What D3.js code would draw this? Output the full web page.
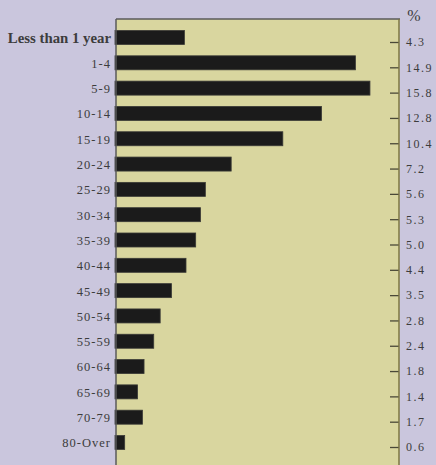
<!DOCTYPE html>
<html>
<head>
<meta charset="utf-8">
<script src="https://cdn.jsdelivr.net/npm/d3@7"></script>
<style>
  html, body { margin: 0; padding: 0; background: #cac6dd; }
  svg { display: block; }
</style>
</head>
<body>
<svg id="chart" width="436" height="465"></svg>
<script>
const categories = ["Less than 1 year", "1-4", "5-9", "10-14", "15-19", "20-24", "25-29", "30-34",
  "35-39", "40-44", "45-49", "50-54", "55-59", "60-64", "65-69", "70-79", "80-Over"];
const percentValues = [4.3, 14.9, 15.8, 12.8, 10.4, 7.2, 5.6, 5.3, 5.0, 4.4, 3.5, 2.8, 2.4, 1.8, 1.4, 1.7, 0.6];
const percentLabels = ["4.3", "14.9", "15.8", "12.8", "10.4", "7.2", "5.6", "5.3", "5.0", "4.4", "3.5", "2.8", "2.4", "1.8", "1.4", "1.7", "0.6"];
const unitLabel = "%";

const W = 436, H = 465;
const plot = { left: 116, right: 399, top: 19, bottom: 465 };

const svg = d3.select("#chart");

// plot background
svg.append("rect")
  .attr("x", plot.left).attr("y", plot.top)
  .attr("width", plot.right - plot.left).attr("height", plot.bottom - plot.top)
  .attr("fill", "#d9d69f");

const x = d3.scaleLinear().domain([0, 17.6]).range([plot.left - 1, plot.right]);
const y = d3.scalePoint().domain(categories).range([37.5, 442.5]);
const barH = 14;

// bars
svg.append("g").selectAll("rect")
  .data(categories)
  .join("rect")
  .attr("x", x(0))
  .attr("y", d => y(d) - barH / 2)
  .attr("width", (d, i) => x(percentValues[i]) - x(0))
  .attr("height", barH)
  .attr("fill", "#1b1b1b")
  .attr("stroke", "#3a3a36")
  .attr("stroke-width", 0.8);

// borders
svg.append("line").attr("x1", plot.left).attr("x2", plot.right + 1)
  .attr("y1", plot.top).attr("y2", plot.top)
  .attr("stroke", "#5a5a5a").attr("stroke-width", 1.5);
svg.append("line").attr("x1", plot.left).attr("x2", plot.left)
  .attr("y1", plot.top).attr("y2", plot.bottom)
  .attr("stroke", "#5a5a5a").attr("stroke-width", 1.5);

// left category axis
const leftAxis = svg.append("g")
  .attr("transform", `translate(${plot.left - 1},0)`)
  .call(d3.axisLeft(y).tickSize(0).tickPadding(4));
leftAxis.select(".domain").remove();
leftAxis.selectAll("text")
  .attr("fill", "#3c3c3c")
  .style("font-family", "'Liberation Serif', 'DejaVu Serif', serif")
  .style("font-size", "12.5px")
  .style("letter-spacing", "1px")
  .attr("dy", "0.35em");
leftAxis.selectAll("text")
  .filter(d => d === categories[0])
  .style("font-size", "14.8px")
  .style("font-weight", "bold")
  .style("letter-spacing", "0px");

// right value axis (ticks pointing inward)
const rightAxis = svg.append("g")
  .attr("transform", `translate(${plot.right},4.5)`)
  .call(d3.axisRight(y)
    .tickSizeInner(-9).tickSizeOuter(0).tickPadding(7)
    .tickFormat((d, i) => percentLabels[i]));
rightAxis.select(".domain").remove();
rightAxis.selectAll(".tick line").attr("stroke", "#4a4838").attr("stroke-width", 1.3);
rightAxis.selectAll("text")
  .attr("fill", "#3c3c3c")
  .style("font-family", "'Liberation Serif', 'DejaVu Serif', serif")
  .style("font-size", "12px")
  .style("letter-spacing", "1.5px");

svg.append("line").attr("x1", plot.right).attr("x2", plot.right)
  .attr("y1", plot.top).attr("y2", plot.bottom)
  .attr("stroke", "#7d7640").attr("stroke-width", 1.5);

// unit label
svg.append("text")
  .attr("x", 414).attr("y", 21)
  .attr("text-anchor", "middle")
  .attr("fill", "#3c3c3c")
  .style("font-family", "'Liberation Serif', 'DejaVu Serif', serif")
  .style("font-size", "16px")
  .text(unitLabel);
</script>
</body>
</html>
